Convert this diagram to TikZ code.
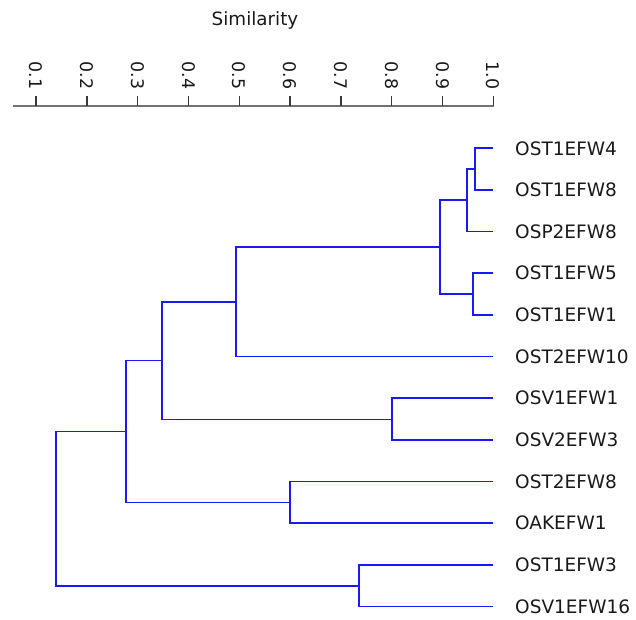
\documentclass[tikz,border=0pt]{standalone}
\usepackage{fontspec}
\setmainfont{DejaVu Sans}
\usetikzlibrary{calc}
\definecolor{treeblue}{RGB}{25,25,250}
\definecolor{axisgray}{RGB}{115,115,115}
\definecolor{tickgray}{RGB}{55,55,55}
\definecolor{labelink}{RGB}{25,25,25}
\tikzset{
  branch/.style={draw=treeblue, line width=1.7pt, line join=miter},
  leaflabel/.style={anchor=west, inner sep=0pt, text=labelink, font=\fontsize{18.5}{22}\selectfont},
  scalelabel/.style={rotate=-90, anchor=center, inner sep=0pt, text=labelink, font=\fontsize{17.4}{20}\selectfont},
  axisline/.style={draw=axisgray, line width=2pt},
  tickmark/.style={draw=tickgray, line width=1.4pt},
}
\begin{document}
\begin{tikzpicture}[x=1pt, y=-1pt]
\useasboundingbox (0,0) rectangle (636,619);

% similarity scale: x = 36 + (s - 0.1) * 508
\node[anchor=base, inner sep=0pt, text=labelink, font=\fontsize{18.3}{22}\selectfont] (title) at (255,25) {Similarity};
\coordinate (axL) at (13,106);
\coordinate (axR) at (494,106);
\draw[axisline] (axL) -- (axR);
\foreach \v [count=\i from 0] in {0.1,0.2,0.3,0.4,0.5,0.6,0.7,0.8,0.9,1.0} {
  \coordinate (tk\i) at ({36 + \i*50.8},106);
  \coordinate (tt\i) at ({36 + \i*50.8},96);
  \draw[tickmark] (tk\i) -- (tt\i);
  \node[scalelabel] (sv\i) at ({36 + \i*50.8},75.5) {\v};
}

% leaves: line ends at s = 1.0 and their labels
\foreach \name [count=\i from 1] in {OST1EFW4,OST1EFW8,OSP2EFW8,OST1EFW5,OST1EFW1,OST2EFW10,OSV1EFW1,OSV2EFW3,OST2EFW8,OAKEFW1,OST1EFW3,OSV1EFW16} {
  \coordinate (l\i) at (493,{148.3 + (\i-1)*41.65});
  \node[leaflabel] (t\i) at (515,{148.3 + (\i-1)*41.65}) {\name};
}

% joins
\coordinate (n1)  at (475,169.1);
\coordinate (n2)  at (466.7,200.3);
\coordinate (n3)  at (472.7,294.2);
\coordinate (n4)  at (440,247.3);
\coordinate (n5)  at (236,301.8);
\coordinate (n6)  at (392,419.4);
\coordinate (n7)  at (162,360.6);
\coordinate (n8)  at (290,502.5);
\coordinate (n9)  at (126,431.6);
\coordinate (n10) at (359,585.8);
\coordinate (n11) at (56,508.7);

\draw[branch] (l1) -| (n1) |- (l2);
\draw[branch] (n1) -| (n2) |- (l3);
\draw[branch] (l4) -| (n3) |- (l5);
\draw[branch] (n2) -| (n4) |- (n3);
\draw[branch] (n4) -| (n5) |- (l6);
\draw[branch] (l7) -| (n6) |- (l8);
\draw[branch] (n5) -| (n7) |- (n6);
\draw[branch] (l9) -| (n8) |- (l10);
\draw[branch] (n7) -| (n9) |- (n8);
\draw[branch] (l11) -| (n10) |- (l12);
\draw[branch] (n9) -| (n11) |- (n10);
\end{tikzpicture}
\end{document}
